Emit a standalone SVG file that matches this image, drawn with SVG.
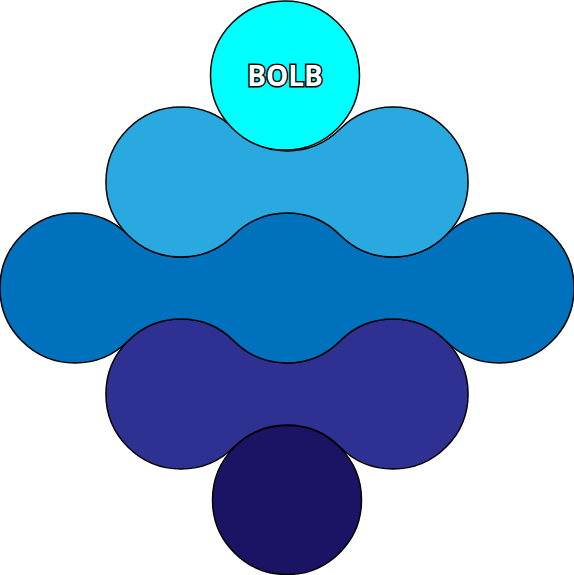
<svg xmlns="http://www.w3.org/2000/svg" width="574" height="575" viewBox="0 0 574 575">
  <style>
    .blob { stroke: #000; stroke-width: 1.5; stroke-linejoin: round; }
    .label { font-family: "Open Sans", "Liberation Sans", sans-serif; font-weight: bold; font-size: 28px; fill: #fff; stroke: #000; stroke-width: 3; paint-order: stroke; text-anchor: middle; }
  </style>
  <rect width="574" height="575" fill="#fff"/>
  <g id="row5">
    <circle class="blob" cx="287" cy="500" r="74.5" fill="#1B1464"/>
  </g>
  <g id="row4">
    <path class="blob" fill="#2E3192" d="M234,341 A75,75 0 0 0 340,341 A75,75 0 1 1 340,447 A75,75 0 0 0 234,447 A75,75 0 1 1 234,341 Z"/>
  </g>
  <g id="row3">
    <path class="blob" fill="#0071BC" d="M128,235 A75,75 0 0 0 234,235 A75,75 0 0 1 340,235 A75,75 0 0 0 446,235 A75,75 0 1 1 446,341 A75,75 0 0 0 340,341 A75,75 0 0 1 234,341 A75,75 0 0 0 128,341 A75,75 0 1 1 128,235 Z"/>
  </g>
  <g id="row2">
    <path class="blob" fill="#29A9E0" d="M234,129 A75,75 0 0 0 340,129 A75,75 0 1 1 340,235 A75,75 0 0 0 234,235 A75,75 0 1 1 234,129 Z"/>
  </g>
  <g id="row1">
    <circle class="blob" cx="285" cy="75.5" r="74.5" fill="#00FFFF"/>
    <text class="label" x="285" y="86">BOLB</text>
  </g>
</svg>
